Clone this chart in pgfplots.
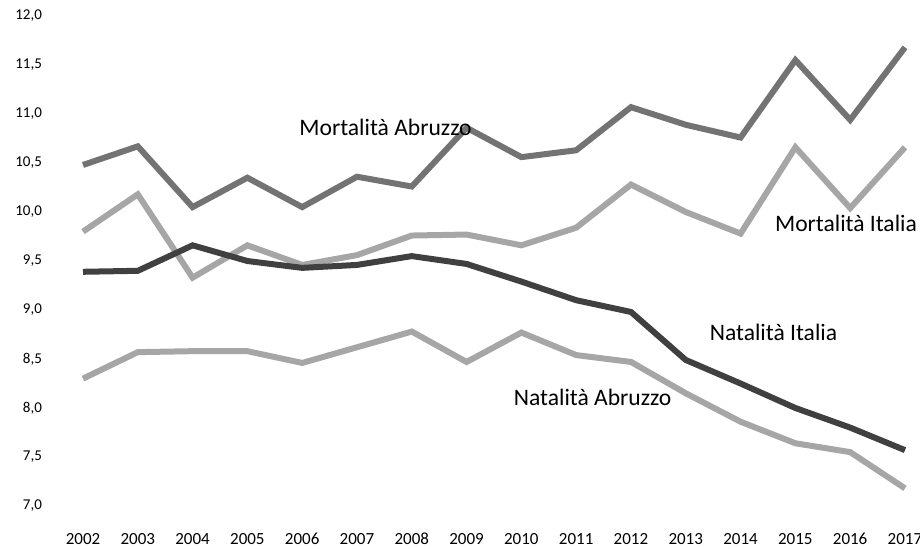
\documentclass[border=0pt]{standalone}
\usepackage{fontspec}
\setmainfont{Carlito}
\usepackage{pgfplots}
\pgfplotsset{compat=1.18}
\begin{document}
\begin{tikzpicture}
\begin{axis}[
  scale only axis,
  width=411pt, height=245pt,
  xmin=2002, xmax=2017, ymin=7, ymax=12,
  axis line style={draw=none},
  tick style={draw=none},
  xtick={2002,...,2017},
  ytick={7,7.5,...,12},
  /pgf/number format/assume math mode=true,
  xticklabel style={/pgf/number format/1000 sep={}, font=\fontsize{8.5}{10}\selectfont, anchor=base, yshift=-19pt},
  yticklabel style={/pgf/number format/.cd, fixed, fixed zerofill, precision=1, use comma, /tikz/.cd, font=\fontsize{7.5}{9}\selectfont, xshift=-17pt},
  clip=false,
]
% Mortalita Abruzzo
\addplot[color=black!55, line width=3pt] coordinates {
(2002,10.48)(2003,10.67)(2004,10.05)(2005,10.35)(2006,10.05)(2007,10.36)(2008,10.26)(2009,10.86)
(2010,10.56)(2011,10.63)(2012,11.07)(2013,10.89)(2014,10.76)(2015,11.55)(2016,10.94)(2017,11.68)};
% Mortalita Italia
\addplot[color=black!35, line width=3pt] coordinates {
(2002,9.8)(2003,10.18)(2004,9.33)(2005,9.66)(2006,9.46)(2007,9.56)(2008,9.76)(2009,9.77)
(2010,9.66)(2011,9.84)(2012,10.28)(2013,10.0)(2014,9.78)(2015,10.66)(2016,10.04)(2017,10.66)};
% Natalita Abruzzo
\addplot[color=black!35, line width=3pt] coordinates {
(2002,8.3)(2003,8.57)(2004,8.58)(2005,8.58)(2006,8.46)(2007,8.62)(2008,8.78)(2009,8.47)
(2010,8.77)(2011,8.54)(2012,8.47)(2013,8.15)(2014,7.86)(2015,7.64)(2016,7.55)(2017,7.18)};
% Natalita Italia
\addplot[color=black!75, line width=3pt] coordinates {
(2002,9.39)(2003,9.4)(2004,9.66)(2005,9.5)(2006,9.43)(2007,9.46)(2008,9.55)(2009,9.47)
(2010,9.29)(2011,9.1)(2012,8.98)(2013,8.49)(2014,8.25)(2015,8.0)(2016,7.8)(2017,7.57)};
\node[font=\fontsize{11.8}{14}\selectfont] at (axis cs:2007.52,10.86) {Mortalità Abruzzo};
\node[font=\fontsize{11.8}{14}\selectfont, anchor=west] at (axis cs:2014.5,9.88) {Mortalità Italia};
\node[font=\fontsize{11.8}{14}\selectfont] at (axis cs:2014.6,8.77) {Natalità Italia};
\node[font=\fontsize{11.8}{14}\selectfont] at (axis cs:2011.3,8.11) {Natalità Abruzzo};
\end{axis}
\pgfresetboundingbox
\path (-41.5pt,-21pt) rectangle (418.5pt,253pt);
\end{tikzpicture}
\end{document}
